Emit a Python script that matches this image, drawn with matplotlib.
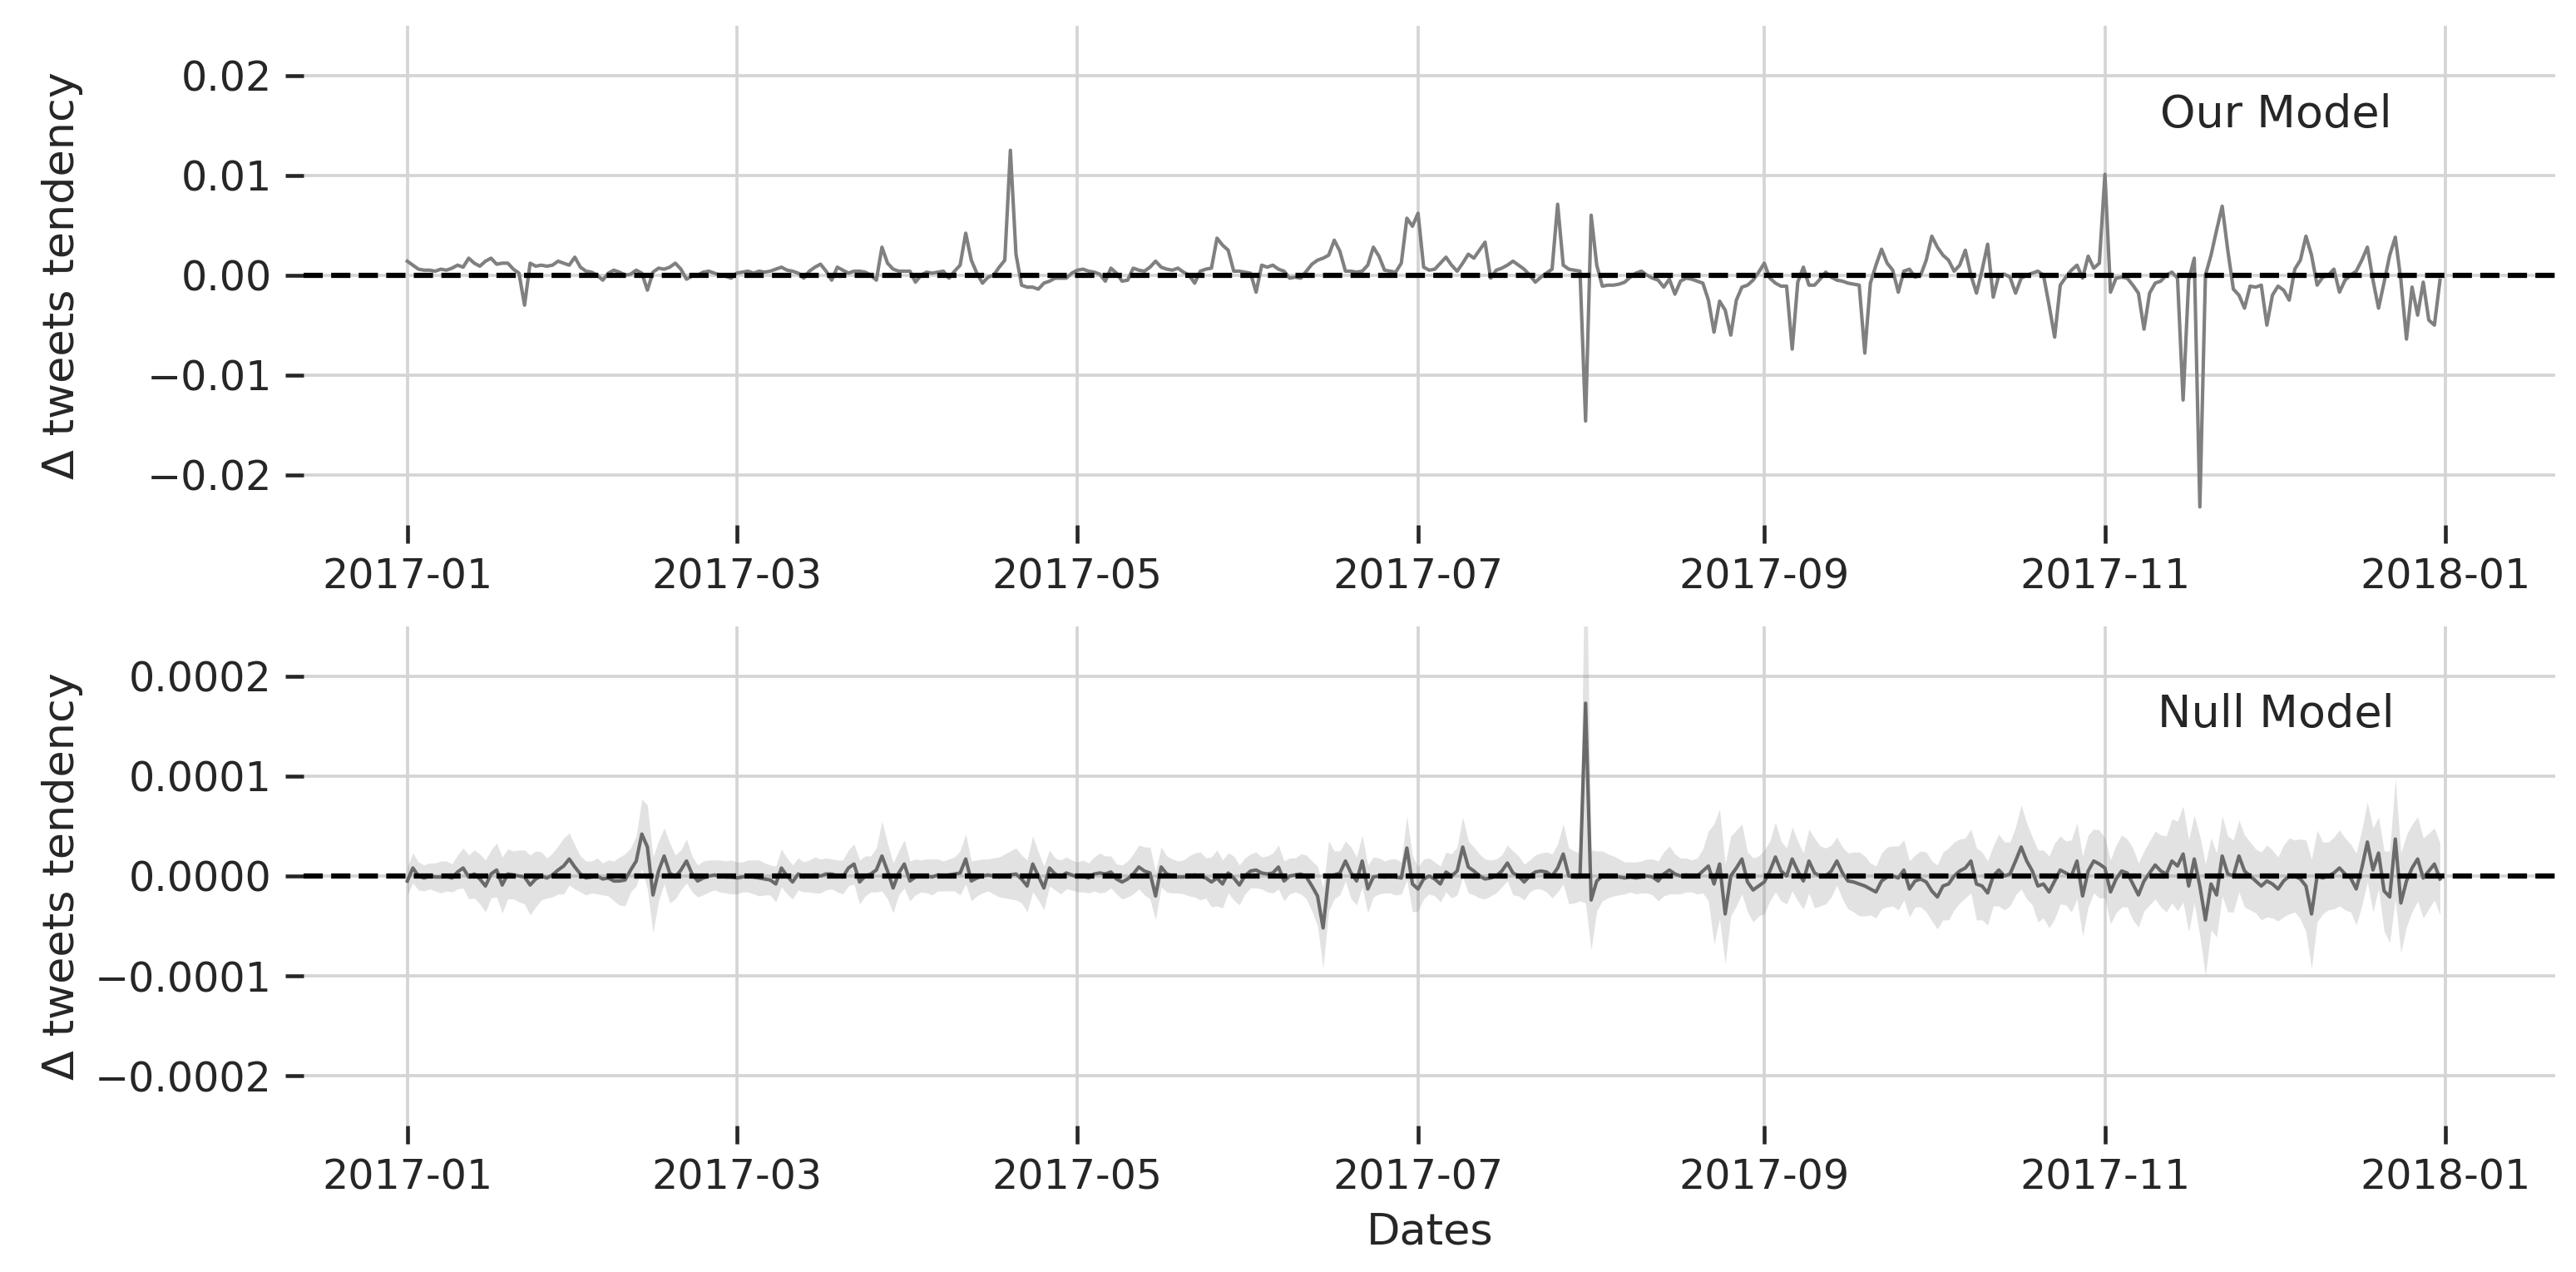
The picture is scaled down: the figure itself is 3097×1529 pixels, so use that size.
import pandas as pd
import matplotlib.pyplot as plt
import matplotlib.dates as mdates
from matplotlib.ticker import FuncFormatter

start = '2017-01-01'

# daily delta of tweets tendency, "Our Model", units of 1e-4 (one row per month)
our_model = (
    [14, 10, 6, 5, 5, 4, 6, 5, 7, 10, 8, 17, 12, 9, 14, 17, 11, 12, 12, 6, 2, -30, 12, 9, 10, 9, 10, 14, 12, 10, 18]
    + [8, 4, 3, 0, -5, 2, 5, 3, 0, 1, 5, 2, -15, 3, 7, 6, 8, 12, 6, -4, -1, 0, 3, 4, 2, 0, -1, -3]
    + [2, 3, 4, 2, 4, 3, 4, 6, 8, 5, 4, 2, -3, 4, 8, 11, 4, -5, 8, 5, 2, 4, 4, 3, 0, -5, 28, 12, 6, 4, 4]
    + [4, -7, 0, 3, 2, 3, 4, -3, 4, 10, 42, 15, 2, -8, -2, 0, 8, 15, 125, 21, -10, -12, -12, -14, -8, -6, -3, -3, -3, 2]
    + [5, 6, 4, 3, 1, -6, 7, 2, -6, -5, 7, 5, 4, 8, 14, 8, 6, 5, 7, 3, 0, -8, 4, 6, 7, 37, 30, 25, 4, 4, 3]
    + [2, -17, 10, 8, 10, 6, 4, -3, -2, -3, 4, 11, 15, 17, 20, 35, 24, 4, 4, 3, 4, 10, 28, 19, 5, 4, 3, 12, 57, 49]
    + [62, 8, 5, 6, 12, 18, 10, 4, 12, 21, 17, 25, 33, -3, 5, 7, 10, 14, 10, 6, 0, -7, -2, 2, 6, 71, 10, 6, 5, 4, -146]
    + [60, 10, -11, -10, -10, -9, -7, -2, 2, 4, 0, -3, -5, -12, -4, -19, -6, -3, -4, -6, -8, -25, -57, -26, -35, -60, -25, -12, -10, -5, 3]
    + [12, -3, -8, -11, -11, -74, -7, 8, -10, -10, -4, 3, -2, -5, -6, -8, -9, -10, -78, -8, 10, 26, 12, 5, -17, 4, 6, -2, 0, 15]
    + [39, 28, 20, 15, 4, 10, 25, 0, -18, 5, 31, -22, 0, 1, -2, -18, -3, 0, 2, 4, 0, -30, -62, -10, -2, 5, 10, -3, 19, 7, 12]
    + [101, -17, -3, -2, -3, -10, -18, -54, -18, -8, -6, 0, 3, -3, -125, -5, 17, -232, 0, 20, 45, 69, 25, -14, -20, -33, -11, -12, -10, -50]
    + [-20, -11, -15, -25, 6, 15, 39, 20, -10, -2, 0, 6, -17, -5, 0, 4, 15, 28, -5, -33, -7, 20, 38, -5, -64, -12, -40, -7, -45, -50, -5]
)
our_unit = 1e-4

# "Null Model" mean, units of 1e-6
null_model = (
    [-5, 8, 0, -2, 0, -1, -1, 0, -2, 4, 8, -1, 2, -3, -10, 2, 6, -9, 2, 1, 0, -1, -9, -3, 0, -2, 1, 6, 10, 17, 9]
    + [2, -2, -1, 0, -3, -2, -5, -5, -4, 6, 15, 42, 29, -19, 5, 20, 3, -1, 6, 15, 2, -5, -2, 0, 1, 0, -1, -1]
    + [-2, -1, 0, -1, -2, -3, -4, -8, 8, 0, -6, 2, -1, 0, 1, 0, 2, 2, 0, -1, 8, 12, -6, 0, 2, 6, 20, 5, -12, 3, 12]
    + [-5, -1, 0, 0, -1, 1, 0, 1, 2, 3, 17, -5, -2, 0, 1, 0, -1, 0, 1, 2, -3, -10, 12, 0, -12, 8, 2, -1, 3, 1]
    + [-1, 0, -2, 2, 3, 2, 4, -3, -6, -3, 2, 9, 5, 3, -20, 9, 2, 0, -1, -1, 0, 1, 0, -2, -6, -2, -8, 3, -2, -9, 0]
    + [5, 6, 3, 2, 3, 9, -5, 0, 1, 2, -1, -10, -20, -52, 0, 1, 3, 15, 3, -5, 15, -13, -1, 0, -1, 0, -1, -2, 28, -8]
    + [-13, -3, 0, -3, -8, 4, 0, 5, 29, 9, 5, 0, -3, -2, 0, 5, 13, 3, 0, -6, 0, 4, 5, 4, 0, 8, 22, 0, -1, -1, 173]
    + [-24, -5, 0, 0, 0, -1, -2, -1, -2, -1, 0, -1, -5, 2, 6, 2, 0, 1, 0, 0, 5, 10, -8, 12, -38, 0, 8, 17, -6, -14, -10]
    + [-6, 5, 19, 5, 0, 17, 5, -5, 15, 3, 0, 0, 5, 15, 3, -5, -6, -8, -10, -13, -16, -5, -1, 0, -2, 6, -13, -5, -3, -6]
    + [-15, -21, -10, -8, 0, 5, 8, 15, -8, -10, -17, 0, 6, 0, 2, 15, 29, 15, 5, -10, -8, -16, -5, 6, 3, 0, 15, -20, 5, 15, 12]
    + [8, -16, -3, 5, 3, -8, -19, -5, 3, 11, 5, 2, 15, 10, 22, -10, 17, -10, -44, -8, -19, 20, 2, 0, 20, 5, 0, -5, -10, -5]
    + [-8, -13, -5, 0, 0, -3, -10, -38, 0, -2, 0, 3, 8, 2, -2, -13, 8, 34, 6, 23, -15, -21, 37, -27, -5, 8, 17, -2, 5, 12, -3]
)
# half width of the grey band around the null model, units of 1e-6
null_spread = (
    [14, 15, 14, 13, 13, 14, 16, 15, 14, 17, 20, 22, 24, 25, 26, 24, 27, 28, 25, 24, 26, 27, 30, 28, 24, 20, 22, 24, 28, 26, 22]
    + [18, 17, 16, 18, 16, 18, 20, 24, 26, 22, 25, 35, 42, 38, 30, 28, 30, 22, 20, 22, 18, 16, 17, 16, 15, 16, 16, 17]
    + [16, 15, 16, 17, 18, 16, 15, 18, 19, 18, 17, 16, 15, 16, 18, 17, 16, 15, 16, 17, 18, 20, 22, 20, 18, 22, 35, 28, 25, 22, 24]
    + [20, 18, 16, 17, 18, 16, 15, 16, 17, 22, 25, 20, 18, 17, 16, 18, 20, 22, 24, 26, 24, 26, 28, 24, 22, 18, 16, 17, 16, 15]
    + [15, 16, 15, 17, 20, 18, 16, 15, 17, 18, 20, 22, 24, 26, 24, 20, 18, 17, 16, 17, 20, 22, 24, 20, 25, 28, 24, 20, 22, 20, 18]
    + [17, 18, 16, 18, 20, 22, 20, 18, 17, 20, 22, 25, 30, 40, 35, 24, 22, 20, 26, 24, 26, 24, 20, 18, 16, 17, 18, 16, 32, 28]
    + [22, 20, 18, 17, 18, 20, 22, 24, 30, 26, 24, 22, 20, 18, 17, 16, 18, 22, 20, 18, 16, 17, 18, 20, 22, 24, 30, 28, 26, 24, 200]
    + [50, 30, 25, 22, 20, 18, 16, 15, 16, 16, 17, 18, 20, 22, 24, 20, 18, 17, 16, 18, 22, 35, 60, 55, 50, 40, 38, 35, 30, 32, 30]
    + [32, 30, 35, 30, 28, 32, 30, 28, 32, 35, 30, 28, 26, 24, 26, 28, 30, 32, 30, 26, 26, 28, 30, 30, 32, 30, 28, 26, 28, 30]
    + [30, 32, 34, 36, 34, 32, 30, 32, 36, 34, 32, 30, 36, 34, 32, 34, 42, 38, 34, 36, 34, 36, 38, 34, 32, 36, 38, 40, 36, 32, 34]
    + [30, 32, 34, 36, 34, 36, 32, 30, 32, 34, 36, 38, 42, 45, 48, 46, 44, 50, 56, 46, 42, 40, 38, 36, 36, 36, 34, 32, 34, 36]
    + [34, 32, 36, 38, 36, 40, 46, 55, 46, 36, 34, 36, 38, 36, 34, 36, 38, 40, 42, 36, 40, 46, 60, 50, 46, 44, 42, 40, 38, 36, 36]
)
null_unit = 1e-6

our_ticks = [-0.02, -0.01, 0.0, 0.01, 0.02]
null_ticks = [-0.0002, -0.0001, 0.0, 0.0001, 0.0002]

txt = '#262626'
plt.rcParams.update({
    'font.family': 'DejaVu Sans',
    'axes.spines.left': False, 'axes.spines.right': False,
    'axes.spines.top': False, 'axes.spines.bottom': False,
    'axes.grid': True, 'grid.color': '#d5d5d5', 'grid.linewidth': 0.9,
    'axes.axisbelow': True,
    'xtick.color': txt, 'ytick.color': txt,
    'xtick.labelsize': 11.8, 'ytick.labelsize': 11.8,
    'axes.labelsize': 12.6, 'axes.labelcolor': txt,
    'xtick.major.size': 5.3, 'ytick.major.size': 5.3,
    'xtick.major.width': 1.1, 'ytick.major.width': 1.1,
})

fig, (ax1, ax2) = plt.subplots(2, 1, figsize=(3097 / 300, 1529 / 300), dpi=300)
fig.subplots_adjust(left=0.118, right=0.992, top=0.980, bottom=0.115, hspace=0.203)

d1 = pd.date_range(start, periods=len(our_model), freq='D')
y1 = pd.Series(our_model, index=d1) * our_unit
ax1.plot(d1, y1, color='#808080', lw=1.0)
ax1.axhline(0, color='black', ls='--', lw=1.5)
ax1.set_ylim(-0.025, 0.025)
ax1.set_yticks(our_ticks)
ax1.text(0.876, 0.822, 'Our Model', transform=ax1.transAxes, ha='center', va='center',
         fontsize=13, color=txt)

d2 = pd.date_range(start, periods=len(null_model), freq='D')
y2 = pd.Series(null_model, index=d2) * null_unit
s2 = pd.Series(null_spread, index=pd.date_range(start, periods=len(null_spread), freq='D')) * null_unit
ax2.fill_between(d2, y2 - s2.values, y2 + s2.values, color='#7f7f7f', alpha=0.22, lw=0)
ax2.plot(d2, y2, color='#6a6a6a', lw=1.0)
ax2.axhline(0, color='black', ls='--', lw=1.5)
ax2.set_ylim(-0.00025, 0.00025)
ax2.set_yticks(null_ticks)
ax2.text(0.876, 0.824, 'Null Model', transform=ax2.transAxes, ha='center', va='center',
         fontsize=13, color=txt)
ax2.set_xlabel('Dates')

for ax, nd in ((ax1, 2), (ax2, 4)):
    ax.set_xlim(pd.Timestamp('2016-12-13 12:00'), pd.Timestamp('2018-01-20 16:00'))
    ax.xaxis.set_major_locator(mdates.MonthLocator(bymonth=[1, 3, 5, 7, 9, 11]))
    ax.xaxis.set_major_formatter(mdates.DateFormatter('%Y-%m'))
    ax.yaxis.set_major_formatter(FuncFormatter(lambda v, p, nd=nd: f'{v:.{nd}f}'.replace('-', '\u2212')))
    ax.set_ylabel('\u0394 tweets tendency')
    ax.yaxis.set_label_coords(-0.098, 0.5)
    ax.tick_params(pad=4)

fig.savefig('out.png', dpi=300)
